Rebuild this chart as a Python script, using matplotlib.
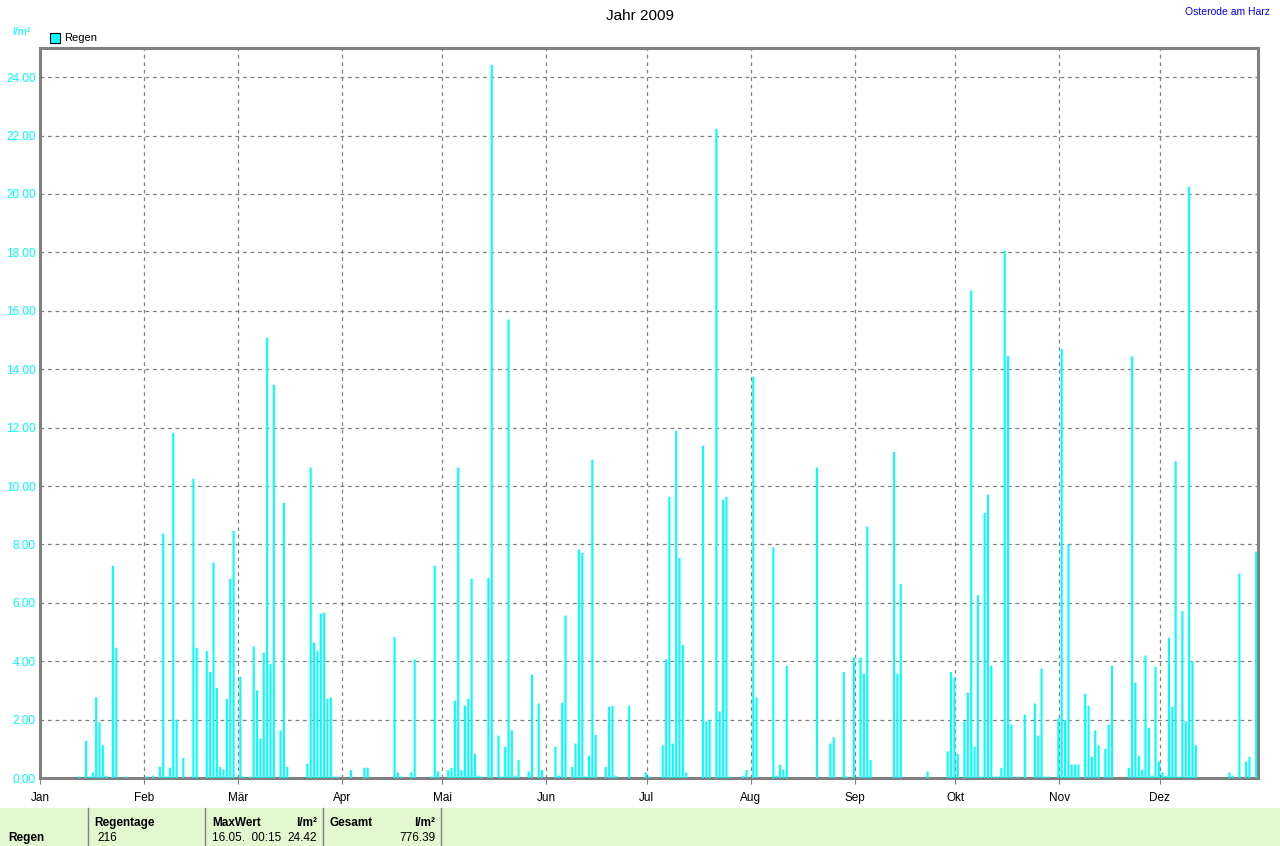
import numpy as np
import matplotlib
matplotlib.use('Agg')
import matplotlib.pyplot as plt
from matplotlib.patches import Rectangle

# daily rain 2009, day of year (0 = 1. Jan) and l/m2
rain_day = [11, 13, 14, 15, 16, 17, 18, 19, 21, 22, 25, 31, 33, 35, 36, 37, 38, 39, 40, 42,
            45, 46, 49, 50, 51, 52, 53, 54, 55, 56, 57, 59, 60, 62, 63, 64, 65, 66, 67, 68,
            69, 71, 72, 73, 79, 80, 81, 82, 83, 84, 85, 86, 87, 88, 92, 96, 97, 105, 106, 107,
            110, 111, 116, 117, 118, 121, 122, 123, 124, 125, 126, 127, 128, 129, 130, 131, 133, 134, 136, 137,
            138, 139, 140, 141, 142, 145, 146, 148, 149, 153, 154, 155, 156, 158, 159, 160, 161, 162, 163, 164,
            165, 168, 169, 170, 171, 175, 180, 181, 185, 186, 187, 188, 189, 190, 191, 192, 197, 198, 199, 201,
            202, 203, 204, 205, 209, 210, 212, 213, 218, 219, 220, 221, 222, 231, 235, 236, 239, 240, 242, 244,
            245, 246, 247, 254, 255, 256, 264, 270, 271, 272, 273, 275, 276, 277, 278, 279, 280, 281, 282, 283,
            284, 285, 286, 287, 288, 289, 291, 293, 296, 297, 298, 299, 300, 303, 304, 305, 306, 307, 308, 309,
            311, 312, 313, 314, 315, 317, 318, 319, 324, 325, 326, 327, 328, 329, 330, 331, 332, 333, 334, 335,
            336, 337, 338, 339, 340, 341, 342, 343, 344, 354, 355, 357, 359, 360, 362]
rain_mm = [0.05, 1.27, 0.05, 0.19, 2.76, 1.90, 1.12, 0.08, 7.27, 4.46, 0.05, 0.05, 0.08, 0.38, 8.37, 0.05, 0.35, 11.82, 1.99, 0.69,
           10.25, 4.46, 4.35, 3.63, 7.38, 3.08, 0.38, 0.29, 2.71, 6.82, 8.46, 3.47, 0.05, 0.05, 4.51, 3.00, 1.35, 4.29, 15.08, 3.90,
           13.47, 1.63, 9.42, 0.38, 0.49, 10.63, 4.64, 4.35, 5.63, 5.66, 2.71, 2.76, 0.05, 0.05, 0.27, 0.35, 0.35, 4.83, 0.19, 0.05,
           0.19, 4.06, 0.05, 7.27, 0.22, 0.27, 0.35, 2.65, 10.63, 0.27, 2.47, 2.71, 6.82, 0.83, 0.08, 0.05, 6.85, 24.42, 1.45, 0.05,
           1.07, 15.70, 1.63, 0.08, 0.62, 0.22, 3.54, 2.55, 0.27, 1.07, 0.08, 2.58, 5.56, 0.38, 1.18, 7.82, 7.71, 0.05, 0.76, 10.90,
           1.48, 0.38, 2.44, 2.47, 0.08, 2.47, 0.19, 0.05, 1.12, 4.06, 9.63, 1.18, 11.89, 7.54, 4.56, 0.19, 11.38, 1.94, 1.99, 22.23,
           2.28, 9.53, 9.63, 0.05, 0.08, 0.27, 13.75, 2.76, 7.90, 0.08, 0.45, 0.29, 3.84, 10.63, 1.18, 1.39, 3.63, 0.05, 4.13, 4.13,
           3.57, 8.61, 0.62, 11.17, 3.57, 6.65, 0.22, 0.91, 3.63, 3.44, 0.83, 1.94, 2.92, 16.69, 1.07, 6.26, 0.05, 9.08, 9.71, 3.84,
           0.05, 0.05, 0.35, 18.06, 14.45, 1.83, 0.05, 2.17, 2.55, 1.45, 3.75, 0.05, 0.05, 2.04, 14.69, 1.99, 8.00, 0.46, 0.46, 0.46,
           2.88, 2.47, 0.73, 1.63, 1.12, 1.00, 1.83, 3.84, 0.35, 14.44, 3.27, 0.76, 0.29, 4.19, 1.72, 0.08, 3.81, 0.56, 0.19, 0.08,
           4.80, 2.44, 10.84, 0.05, 5.72, 1.94, 20.24, 4.00, 1.12, 0.19, 0.08, 7.00, 0.56, 0.73, 7.75]

month_names = ['Jan', 'Feb', 'Mär', 'Apr', 'Mai', 'Jun', 'Jul', 'Aug', 'Sep', 'Okt', 'Nov', 'Dez']
month_len = [31, 28, 31, 30, 31, 30, 31, 31, 30, 31, 30, 31]

summary_head = ['Regentage', 'MaxWert', 'Gesamt']
summary_vals = ['216', '16.05.  00:15', '24.42', '776.39']

plt.rcParams['font.family'] = ['Liberation Sans', 'DejaVu Sans']

fig = plt.figure(figsize=(12.8, 8.46), dpi=100)
ax = fig.add_axes([40 / 1280, 68 / 846, 1218 / 1280, 730 / 846])

cyan = '#00ffff'
bars = ax.bar(np.array(rain_day) + 0.75, rain_mm, width=0.62, color=cyan, linewidth=0, zorder=3)
for b in bars:
    b.set_snap(False)

month_start = np.concatenate([[0], np.cumsum(month_len)[:-1]])
ax.set_xlim(0, 363.3)
ax.set_ylim(0, 25.0)
ax.set_xticks(month_start)
ax.set_xticklabels(month_names, fontsize=8.5)
ax.set_yticks(np.arange(0, 25, 2))
ax.set_yticklabels(['%.2f' % v for v in np.arange(0, 25, 2)], fontsize=8.5, color=cyan)
ax.tick_params(axis='x', length=4, color='#808080', pad=6)
ax.tick_params(axis='y', length=0, pad=3)
ax.grid(True, color='#808080', linestyle=(0, (3, 3)), linewidth=0.9, zorder=1)
for s in ax.spines.values():
    s.set_color('#808080')
    s.set_linewidth(2.2)

fig.text(0.5, 1 - 16 / 846, 'Jahr 2009', ha='center', va='center', fontsize=11)
fig.text(1227 / 1280, 1 - 12 / 846, 'Osterode am Harz', ha='center', va='center', fontsize=7.5, color='#0000ff')
fig.text(12 / 1280, 1 - 32 / 846, 'l/m²', ha='left', va='center', fontsize=8, color=cyan)
fig.patches.append(Rectangle((50 / 1280, 1 - 43 / 846), 10 / 1280, 10 / 846, transform=fig.transFigure,
                             facecolor=cyan, edgecolor='black', linewidth=0.8))
fig.text(64 / 1280, 1 - 38 / 846, 'Regen', ha='left', va='center', fontsize=8)

# footer table
fig.patches.append(Rectangle((0, 0), 1, 38 / 846, transform=fig.transFigure,
                             facecolor='#e2f8cf', edgecolor='none'))
for xs in [88, 205, 323, 441]:
    fig.add_artist(plt.Line2D([xs / 1280, xs / 1280], [0, 38 / 846], color='#808080', linewidth=1))
y1 = 1 - 823 / 846
y2 = 1 - 838 / 846
fig.text(8 / 1280, y2, 'Regen', fontsize=8.5, fontweight='bold', va='center')
fig.text(94 / 1280, y1, summary_head[0], fontsize=8.5, fontweight='bold', va='center')
fig.text(97 / 1280, y2, summary_vals[0], fontsize=8.5, va='center')
fig.text(212 / 1280, y1, summary_head[1], fontsize=8.5, fontweight='bold', va='center')
fig.text(317 / 1280, y1, 'l/m²', fontsize=8.5, fontweight='bold', va='center', ha='right')
fig.text(212 / 1280, y2, summary_vals[1], fontsize=8.5, va='center')
fig.text(317 / 1280, y2, summary_vals[2], fontsize=8.5, va='center', ha='right')
fig.text(330 / 1280, y1, summary_head[2], fontsize=8.5, fontweight='bold', va='center')
fig.text(435 / 1280, y1, 'l/m²', fontsize=8.5, fontweight='bold', va='center', ha='right')
fig.text(435 / 1280, y2, summary_vals[3], fontsize=8.5, va='center', ha='right')

fig.savefig('out.png', dpi=100)
